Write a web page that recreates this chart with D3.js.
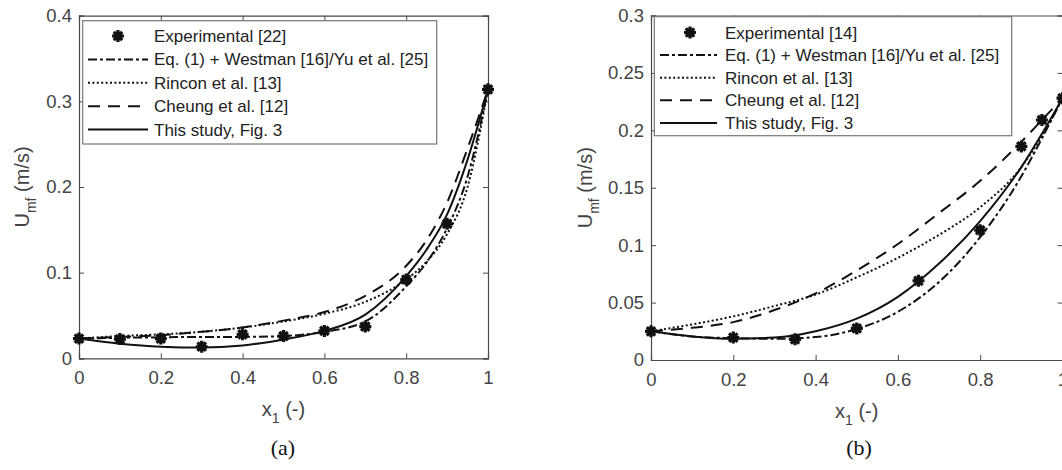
<!DOCTYPE html>
<html><head><meta charset="utf-8">
<script src="https://cdn.jsdelivr.net/npm/d3@7"></script>
<style>body{margin:0;background:#fff}svg{display:block}</style>
</head><body>
<svg id="c" width="1062" height="470"></svg>
<script>
// ---- data: panel (a)
const aExpX = [0, 0.1, 0.2, 0.3, 0.4, 0.5, 0.6, 0.7, 0.8, 0.9, 1.0];
const aExpY = [0.023, 0.0225, 0.023, 0.0135, 0.028, 0.026, 0.032, 0.037, 0.092, 0.157, 0.314];
const aCurveX = [0, 0.1, 0.2, 0.3, 0.4, 0.5, 0.6, 0.7, 0.8, 0.85, 0.9, 0.95, 1.0];
const aWestman = [0.023, 0.024, 0.0245, 0.025, 0.025, 0.026, 0.031, 0.043, 0.084, 0.112, 0.152, 0.212, 0.314];
const aRincon  = [0.023, 0.026, 0.028, 0.031, 0.036, 0.043, 0.052, 0.066, 0.092, 0.113, 0.145, 0.2, 0.314];
const aCheung  = [0.023, 0.025, 0.027, 0.031, 0.036, 0.044, 0.054, 0.073, 0.108, 0.138, 0.182, 0.245, 0.314];
const aStudy   = [0.023, 0.017, 0.0135, 0.0125, 0.015, 0.022, 0.032, 0.051, 0.096, 0.127, 0.168, 0.232, 0.314];
const aYTicks = [0, 0.1, 0.2, 0.3, 0.4];
const aLegend = ["Experimental [22]", "Eq. (1) + Westman [16]/Yu et al. [25]", "Rincon et al. [13]", "Cheung et al. [12]", "This study, Fig. 3"];

// ---- data: panel (b)
const bExpX = [0, 0.2, 0.35, 0.5, 0.65, 0.8, 0.9, 0.95, 1.0];
const bExpY = [0.025, 0.0195, 0.018, 0.0275, 0.069, 0.113, 0.186, 0.209, 0.228];
const bCurveX = [0, 0.1, 0.2, 0.3, 0.4, 0.5, 0.6, 0.7, 0.8, 0.9, 0.95, 1.0];
const bWestman = [0.025, 0.0205, 0.019, 0.0185, 0.02, 0.027, 0.042, 0.068, 0.107, 0.16, 0.193, 0.228];
const bRincon  = [0.025, 0.031, 0.038, 0.047, 0.057, 0.072, 0.089, 0.109, 0.133, 0.168, 0.195, 0.228];
const bCheung  = [0.025, 0.028, 0.033, 0.0435, 0.058, 0.078, 0.101, 0.128, 0.156, 0.19, 0.209, 0.228];
const bStudy   = [0.025, 0.0205, 0.0185, 0.0195, 0.025, 0.036, 0.055, 0.084, 0.121, 0.168, 0.197, 0.228];
const bYTicks = [0, 0.05, 0.1, 0.15, 0.2, 0.25, 0.3];
const bLegend = ["Experimental [14]", "Eq. (1) + Westman [16]/Yu et al.  [25]", "Rincon et al. [13]", "Cheung et al. [12]", "This study, Fig. 3"];

const xTicks = [0, 0.2, 0.4, 0.6, 0.8, 1];

const svg = d3.select("#c");
const FONT = "'Liberation Sans', Arial, Helvetica, sans-serif";
const AX = "#4a4a4a";
const styles = [null, "9,3,3,3", "2,2.4", "12,8", null];

// custom 8-spoke asterisk marker
const star = { draw(ctx, size) {
  const r = Math.sqrt(size) / 2;
  for (let k = 0; k < 4; k++) {
    const a = k * Math.PI / 4;
    ctx.moveTo(-r * Math.cos(a), -r * Math.sin(a));
    ctx.lineTo(r * Math.cos(a), r * Math.sin(a));
  }
}};

function panel(o) {
  const g = svg.append("g");
  const x = d3.scaleLinear().domain([0, 1]).range([o.x0, o.x1]);
  const y = d3.scaleLinear().domain([0, o.ymax]).range([o.yb, o.yt]);
  const fmt = d => d === 0 ? "0" : d === 1 ? "1" : String(d);

  const cid = "clip" + o.id;
  svg.append("clipPath").attr("id", cid).append("rect")
    .attr("x", o.x0 - 8).attr("y", o.yt - 8).attr("width", o.x1 - o.x0 + 16).attr("height", o.yb - o.yt + 16);

  const bottom = d3.axisBottom(x).tickValues(xTicks).tickSize(-5).tickPadding(13).tickFormat(fmt);
  const top = d3.axisTop(x).tickValues(xTicks).tickSize(-5).tickFormat("");
  const left = d3.axisLeft(y).tickValues(o.yticks).tickSize(-5).tickPadding(7).tickFormat(fmt);
  const right = d3.axisRight(y).tickValues(o.yticks).tickSize(-5).tickFormat("");
  const axes = [
    g.append("g").attr("transform", `translate(0,${o.yb})`).call(bottom),
    g.append("g").attr("transform", `translate(0,${o.yt})`).call(top),
    g.append("g").attr("transform", `translate(${o.x0},0)`).call(left),
    g.append("g").attr("transform", `translate(${o.x1},0)`).call(right)
  ];
  axes.forEach(a => {
    a.select(".domain").attr("stroke", AX).attr("stroke-width", 1.2);
    a.selectAll(".tick line").attr("stroke", AX).attr("stroke-width", 1);
    a.selectAll("text").attr("fill", "#444").style("font-family", FONT).style("font-size", "18.5px");
  });

  const line = d3.line().x(d => x(d[0])).y(d => y(d[1])).curve(d3.curveMonotoneX);
  const cg = g.append("g").attr("clip-path", `url(#${cid})`);
  const series = [null, o.west, o.rincon, o.cheung, o.study];
  [4, 3, 2, 1].forEach(i => {
    cg.append("path").datum(o.cx.map((v, k) => [v, series[i][k]]))
      .attr("d", line).attr("fill", "none").attr("stroke", "#111").attr("stroke-width", 2)
      .attr("stroke-dasharray", styles[i]);
  });
  const sym = d3.symbol().type(star).size(144);
  cg.selectAll(".m").data(o.ex.map((v, k) => [v, o.ey[k]])).join("path")
    .attr("transform", d => `translate(${x(d[0])},${y(d[1])})`)
    .attr("d", sym).attr("stroke", "#111").attr("stroke-width", 3.2).attr("fill", "none");
  cg.selectAll(".m2").data(o.ex.map((v, k) => [v, o.ey[k]])).join("circle")
    .attr("cx", d => x(d[0])).attr("cy", d => y(d[1])).attr("r", 4).attr("fill", "#111");

  const L = o.leg;
  g.append("rect").attr("x", L.x).attr("y", L.y).attr("width", L.w).attr("height", L.h)
    .attr("fill", "#fff").attr("stroke", "#777").attr("stroke-width", 1.2);
  o.labels.forEach((t, i) => {
    const yy = L.y0 + i * L.dy;
    if (i === 0) {
      g.append("path").attr("transform", `translate(${L.mx},${yy})`).attr("d", sym)
        .attr("stroke", "#111").attr("stroke-width", 3.2).attr("fill", "none");
      g.append("circle").attr("cx", L.mx).attr("cy", yy).attr("r", 4).attr("fill", "#111");
    } else {
      g.append("line").attr("x1", L.lx0).attr("x2", L.lx1).attr("y1", yy).attr("y2", yy)
        .attr("stroke", "#111").attr("stroke-width", 2).attr("stroke-dasharray", styles[i]);
    }
    g.append("text").attr("x", L.tx).attr("y", yy + 6).text(t)
      .style("font-family", FONT).style("font-size", "17px").attr("fill", "#222");
  });

  const xl = g.append("text").attr("x", (o.x0 + o.x1) / 2 + o.xlShift).attr("y", o.yb + 58)
    .attr("text-anchor", "middle").style("font-family", FONT).style("font-size", "20px").attr("fill", "#444");
  xl.append("tspan").text("x");
  xl.append("tspan").attr("dy", 7).style("font-size", "14px").text("1");
  xl.append("tspan").attr("dy", -7).text(" (-)");

  const yl = g.append("text").attr("transform", `translate(${o.ylx},${(o.yt + o.yb) / 2}) rotate(-90)`)
    .attr("text-anchor", "middle").style("font-family", FONT).style("font-size", "20px").attr("fill", "#444");
  yl.append("tspan").text("U");
  yl.append("tspan").attr("dy", 7).style("font-size", "14px").text("mf");
  yl.append("tspan").attr("dy", -7).text(" (m/s)");

  svg.append("text").attr("x", o.capx).attr("y", 455).attr("text-anchor", "middle")
    .style("font-family", "'Liberation Serif', 'Times New Roman', serif").style("font-size", "22px")
    .attr("fill", "#111").text(o.cap);
}

panel({ id: "a", x0: 79, x1: 488, yt: 15.7, yb: 358.3, ymax: 0.4, yticks: aYTicks,
  ex: aExpX, ey: aExpY, cx: aCurveX, west: aWestman, rincon: aRincon, cheung: aCheung, study: aStudy,
  labels: aLegend, leg: { x: 82.7, y: 20.7, w: 354, h: 123.3, y0: 36, dy: 23.4, mx: 118, lx0: 88, lx1: 148, tx: 154 },
  xlShift: 0, ylx: 29, capx: 283, cap: "(a)" });

panel({ id: "b", x0: 651, x1: 1062.5, yt: 15.5, yb: 360, ymax: 0.3, yticks: bYTicks,
  ex: bExpX, ey: bExpY, cx: bCurveX, west: bWestman, rincon: bRincon, cheung: bCheung, study: bStudy,
  labels: bLegend, leg: { x: 654.3, y: 16.7, w: 357.4, h: 119, y0: 32.5, dy: 22.6, mx: 690, lx0: 660, lx1: 717, tx: 725 },
  xlShift: 0, ylx: 592, capx: 859, cap: "(b)" });
</script>
</body></html>
